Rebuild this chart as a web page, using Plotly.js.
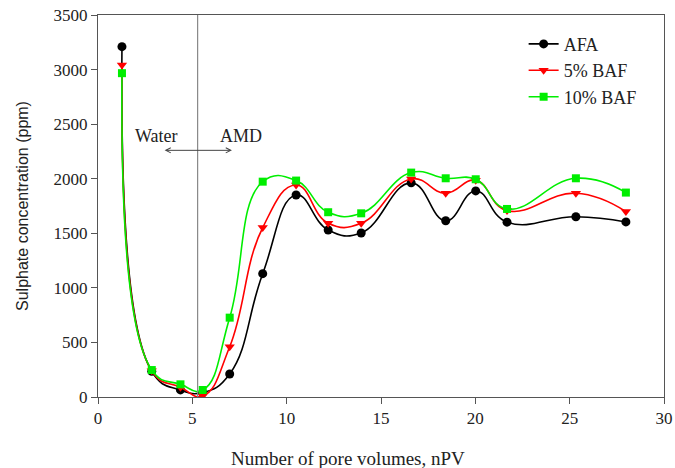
<!DOCTYPE html>
<html>
<head>
<meta charset="utf-8">
<script src="https://cdn.plot.ly/plotly-3.0.1.min.js"></script>
<style>body{margin:0;padding:0;background:#fff}#chart{width:675px;height:468px}</style>
</head>
<body>
<div id="chart"></div>
<script>
const nPV = [1.27, 2.85, 4.37, 5.55, 6.98, 8.73, 10.5, 12.2, 13.95, 16.6, 18.43, 20.02, 21.68, 25.33, 27.98];
const afa    = [3210, 235, 65, 40, 211, 1130, 1851, 1530, 1503, 1962, 1615, 1888, 1602, 1652, 1604];
const baf5   = [3043, 240, 90, 10, 461, 1552, 1943, 1592, 1592, 1998, 1867, 1985, 1708, 1867, 1699];
const baf10  = [2967, 247, 116, 64, 727, 1973, 1983, 1693, 1683, 2056, 2004, 1995, 1723, 2004, 1873];
const seriesNames = ['AFA', '5% BAF', '10% BAF'];
const xTicks = [0, 5, 10, 15, 20, 25, 30];
const yTicks = [0, 500, 1000, 1500, 2000, 2500, 3000, 3500];
const boundaryX = 5.28;

const font = 'Liberation Serif, Times New Roman, serif';
const sansNarrow = 'Liberation Sans Narrow, Liberation Sans, Arial, sans-serif';
function tr(y, name, color, symbol, size) {
  return {
    x: nPV, y: y, name: name, type: 'scatter', mode: 'lines+markers',
    line: {color: color, width: 1.6, shape: 'spline', smoothing: 1.3},
    marker: {color: color, symbol: symbol, size: size},
    cliponaxis: true
  };
}
const data = [
  tr(afa, seriesNames[0], '#000000', 'circle', 9),
  tr(baf5, seriesNames[1], '#ff0000', 'triangle-down', 9),
  tr(baf10, seriesNames[2], '#00ee00', 'square', 8)
];
const axisCommon = {
  showline: true, linecolor: '#555', linewidth: 1, mirror: true,
  ticks: 'outside', ticklen: 6, tickcolor: '#555', showgrid: false, zeroline: false,
  tickfont: {family: font, size: 17, color: '#222'}
};
const layout = {
  width: 675, height: 468,
  margin: {l: 98, r: 11, t: 15, b: 71},
  paper_bgcolor: '#fff', plot_bgcolor: '#fff',
  font: {family: font, color: '#222'},
  xaxis: Object.assign({}, axisCommon, {
    range: [0, 30], tickvals: xTicks
  }),
  yaxis: Object.assign({}, axisCommon, {
    range: [0, 3500], tickvals: yTicks,
    title: {text: 'Sulphate concentration (ppm)', font: {family: sansNarrow, size: 16, color: '#222'}, standoff: 20}
  }),
  showlegend: true,
  legend: {x: 0.752, y: 0.972, xanchor: 'left', yanchor: 'top', bgcolor: 'rgba(0,0,0,0)',
    font: {family: font, size: 18, color: '#222'}, tracegroupgap: 0},
  shapes: [{type: 'line', xref: 'x', yref: 'paper', x0: boundaryX, x1: boundaryX, y0: 0, y1: 1,
    line: {color: '#888', width: 1.2}}],
  annotations: [
    {x: 0.442, y: -0.16, xref: 'paper', yref: 'paper', text: 'Number of pore volumes, nPV', showarrow: false,
     xanchor: 'center', yanchor: 'middle', font: {family: font, size: 19, color: '#222'}},
    {x: 3.1, y: 2390, xref: 'x', yref: 'y', text: 'Water', showarrow: false, font: {family: font, size: 18, color: '#222'}},
    {x: 7.6, y: 2390, xref: 'x', yref: 'y', text: 'AMD', showarrow: false, font: {family: font, size: 18, color: '#222'}},
    {x: 7.1, y: 2260, ax: 3.45, ay: 2260, xref: 'x', yref: 'y', axref: 'x', ayref: 'y', text: '',
     showarrow: true, arrowside: 'end+start', arrowhead: 5, arrowsize: 1, arrowwidth: 1, arrowcolor: '#444'}
  ]
};
Plotly.newPlot('chart', data, layout, {displayModeBar: false, staticPlot: true});
</script>
</body>
</html>
